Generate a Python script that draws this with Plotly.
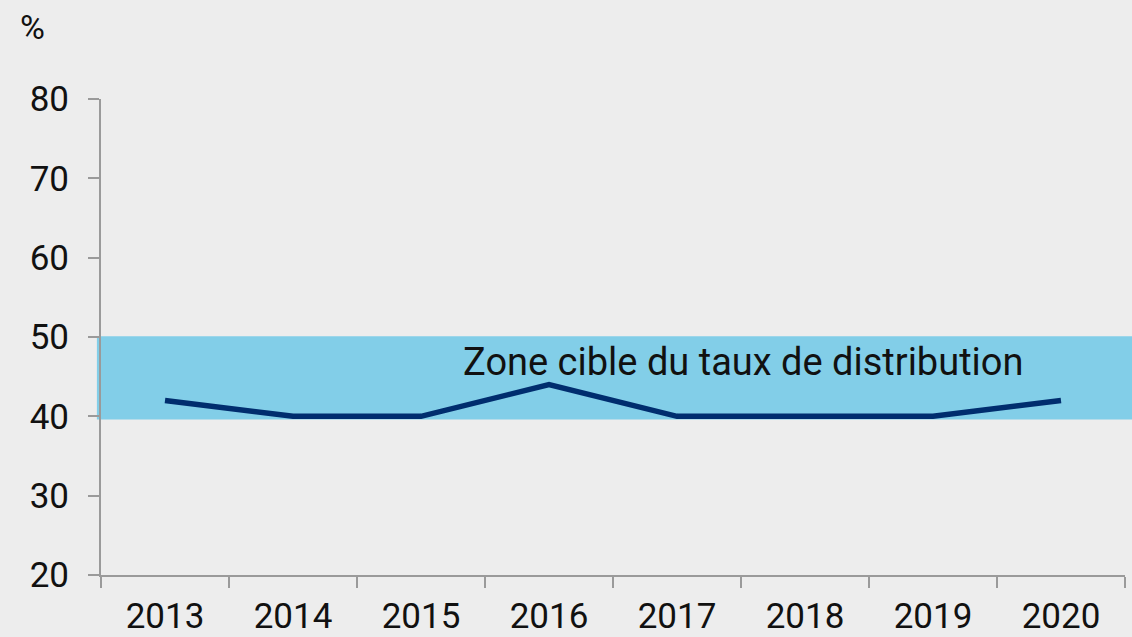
import plotly.graph_objects as go

# data
years = ["2013", "2014", "2015", "2016", "2017", "2018", "2019", "2020"]
payout = [42, 40, 40, 44, 40, 40, 40, 42]
target_low, target_high = 39.6, 50.1
y_ticks = [20, 30, 40, 50, 60, 70, 80]

bg = "#ededed"
axis_col = "#9a9a9a"

fig = go.Figure()

# target zone band
fig.add_shape(type="rect", xref="paper", yref="y",
              x0=-0.004, x1=1.01, y0=target_low, y1=target_high,
              fillcolor="#82cee8", line_width=0, layer="below")

fig.add_trace(go.Scatter(x=years, y=payout, mode="lines",
                         line=dict(color="#002d6e", width=5.5),
                         hoverinfo="x+y", showlegend=False, cliponaxis=False))

fig.add_annotation(x=0.352, xref="paper", y=46.8, yref="y",
                   text="Zone cible du taux de distribution",
                   showarrow=False, xanchor="left", yanchor="middle",
                   font=dict(size=38, color="#111111"))

# unit label above the y axis
fig.add_annotation(x=(32 - 101) / 1024, xref="paper", y=1 + (99 - 27) / 476,
                   yref="paper", text="%", showarrow=False,
                   xanchor="center", yanchor="middle",
                   font=dict(size=34, color="#111111"))

fig.update_layout(
    width=1132, height=637,
    paper_bgcolor=bg, plot_bgcolor=bg,
    margin=dict(l=101, r=7, t=99, b=62),
    font=dict(family="Roboto, sans-serif", size=35, color="#111111"),
    xaxis=dict(type="category", range=[-0.5, 7.5], tickson="boundaries",
               showgrid=False, zeroline=False, showline=True,
               linecolor=axis_col, linewidth=2, automargin=False,
               ticks="outside", ticklen=11, tickcolor=axis_col, tickwidth=2,
               ticklabelstandoff=9, fixedrange=True),
    yaxis=dict(range=[20, 80], tickvals=y_ticks, showgrid=False,
               zeroline=False, showline=True, linecolor=axis_col, linewidth=2,
               automargin=False,
               ticks="outside", ticklen=11, tickcolor=axis_col, tickwidth=2,
               ticklabelstandoff=12, fixedrange=True),
)

fig.write_html("out.html", config={"displayModeBar": False},
               post_script="document.body.style.margin='0';"
                           "document.body.style.background='#ededed';")
